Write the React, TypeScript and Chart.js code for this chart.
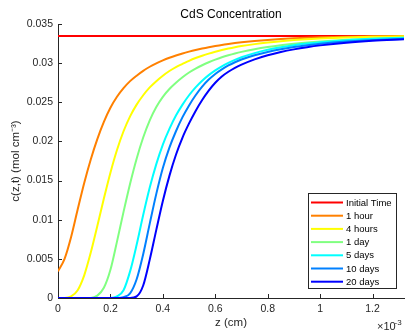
import React, { useEffect, useRef } from 'react';
import { Chart, registerables } from 'chart.js';

Chart.register(...registerables);

// ---------- data (z in units of 1e-3 cm, c in mol cm^-3) ----------
const seriesLabels = ['Initial Time', '1 hour', '4 hours', '1 day', '5 days', '10 days', '20 days'];

const zInitial = [0, 1.32];
const cInitial = [0.03347, 0.03347];

const zGrid = [0, 0.025, 0.05, 0.075, 0.1, 0.125, 0.15, 0.175, 0.2, 0.225, 0.25, 0.275, 0.3, 0.325, 0.35,
  0.375, 0.4, 0.425, 0.45, 0.475, 0.5, 0.525, 0.55, 0.575, 0.6, 0.625, 0.65, 0.675, 0.7,
  0.75, 0.8, 0.85, 0.9, 0.95, 1.0, 1.1, 1.2, 1.32];

const c1Hour = [0.0034, 0.0050, 0.0078, 0.0113, 0.0147, 0.0177, 0.0203, 0.0225, 0.0243, 0.0257, 0.0268, 0.0277,
  0.02840, 0.02902, 0.02954, 0.02998, 0.03036, 0.03069, 0.03098, 0.03124, 0.03147,
  0.03168, 0.03187, 0.03204, 0.03219, 0.03233, 0.03245, 0.03256, 0.03266,
  0.03283, 0.03297, 0.03308, 0.03317, 0.03324, 0.03330, 0.03338, 0.03343, 0.03346];

const c4Hours = [0, 0, 0.0002, 0.0010, 0.0029, 0.0058, 0.0092, 0.0127, 0.0160, 0.0189, 0.0213, 0.0232, 0.0247,
  0.0259, 0.0269, 0.0277, 0.0284, 0.0290, 0.0295, 0.0299, 0.0303,
  0.03065, 0.03095, 0.03122, 0.03146, 0.03167, 0.03186, 0.03203, 0.03218,
  0.03243, 0.03264, 0.03281, 0.03295, 0.03306, 0.03315, 0.03328, 0.03337, 0.03343];

const c1Day = [0, 0, 0, 0, 0, 0, 0.0003, 0.0013, 0.0036, 0.0072, 0.0110, 0.0146, 0.0178, 0.0205, 0.0227, 0.0244,
  0.0257, 0.0267, 0.0275, 0.0282, 0.0288,
  0.02930, 0.02973, 0.03011, 0.03045, 0.03075, 0.03101, 0.03124, 0.03144,
  0.03178, 0.03206, 0.03229, 0.03248, 0.03264, 0.03277, 0.03298, 0.03313, 0.03325];

const c5Days = [0, 0, 0, 0, 0, 0, 0, 0, 0, 0.0002, 0.0010, 0.0034, 0.0068, 0.0106, 0.0141, 0.0171, 0.0196, 0.0216,
  0.0233, 0.0247, 0.0259,
  0.02690, 0.02775, 0.02847, 0.02908, 0.02960, 0.03004, 0.03042, 0.03075,
  0.03128, 0.03170, 0.03203, 0.03230, 0.03251, 0.03268, 0.03294, 0.03311, 0.03324];

const c10Days = [0, 0, 0, 0, 0, 0, 0, 0, 0, 0, 0.0001, 0.0006, 0.0024, 0.0056, 0.0095, 0.0133, 0.0166, 0.0192,
  0.0213, 0.0231, 0.0246,
  0.02590, 0.02700, 0.02790, 0.02862, 0.02921, 0.02970, 0.03011, 0.03046,
  0.03100, 0.03143, 0.03178, 0.03206, 0.03229, 0.03248, 0.03276, 0.03296, 0.03311];

const c20Days = [0, 0, 0, 0, 0, 0, 0, 0, 0, 0, 0, 0, 0.0002, 0.0016, 0.0049, 0.0087, 0.0124, 0.0156, 0.0183,
  0.0205, 0.0223,
  0.0239, 0.0253, 0.0265, 0.0275, 0.0283, 0.0289, 0.0294, 0.0298,
  0.03048, 0.03100, 0.03142, 0.03176, 0.03204, 0.03227, 0.03262, 0.03286, 0.03305];

const seriesZ = [zInitial, zGrid, zGrid, zGrid, zGrid, zGrid, zGrid];
const seriesC = [cInitial, c1Hour, c4Hours, c1Day, c5Days, c10Days, c20Days];

const xTickStep = 0.2;
const yTickStep = 0.005;

// ---------- styles ----------
const seriesColors = ['#ff0000', '#ff8000', '#ffff00', '#80ff80', '#00ffff', '#0080ff', '#0000ff'];
const AXIS = '#262626';
const FONT = '"Liberation Sans", Arial, Helvetica, sans-serif';

const inwardTicks = {
  id: 'inwardTicks',
  beforeDatasetsDraw(chart: any) {
    const { ctx, chartArea, scales } = chart;
    const x = scales.x;
    const y = scales.y;
    ctx.save();
    ctx.strokeStyle = AXIS;
    ctx.lineWidth = 1;
    ctx.beginPath();
    x.ticks.forEach((t: any) => {
      const px = Math.round(x.getPixelForValue(t.value)) + 0.5;
      ctx.moveTo(px, chartArea.bottom);
      ctx.lineTo(px, chartArea.bottom - 4);
    });
    y.ticks.forEach((t: any) => {
      const py = Math.round(y.getPixelForValue(t.value)) + 0.5;
      ctx.moveTo(chartArea.left, py);
      ctx.lineTo(chartArea.left + 4, py);
    });
    ctx.stroke();
    ctx.restore();
  },
};

const boxLegend = {
  id: 'boxLegend',
  afterDraw(chart: any) {
    const { ctx } = chart;
    const left = 308.5, top = 193.5, right = 396.5, bottom = 288.5;
    ctx.save();
    ctx.fillStyle = '#ffffff';
    ctx.fillRect(left, top, right - left, bottom - top);
    ctx.strokeStyle = AXIS;
    ctx.lineWidth = 1;
    ctx.strokeRect(left, top, right - left, bottom - top);
    ctx.font = `9.5px ${FONT}`;
    ctx.textBaseline = 'middle';
    ctx.textAlign = 'left';
    chart.data.datasets.forEach((ds: any, i: number) => {
      const cy = 202.5 + i * 13.2;
      ctx.strokeStyle = ds.borderColor;
      ctx.lineWidth = 2;
      ctx.beginPath();
      ctx.moveTo(311, cy);
      ctx.lineTo(343, cy);
      ctx.stroke();
      ctx.fillStyle = '#000000';
      ctx.fillText(ds.label, 346, cy + 0.5);
    });
    ctx.restore();
  },
};

const exponentLabel = {
  id: 'exponentLabel',
  afterDraw(chart: any) {
    const { ctx } = chart;
    ctx.save();
    ctx.fillStyle = AXIS;
    ctx.textAlign = 'left';
    ctx.textBaseline = 'alphabetic';
    ctx.font = `11px ${FONT}`;
    ctx.fillText('\u00d710', 377, 330);
    ctx.font = `8px ${FONT}`;
    ctx.fillText('-3', 394.5, 325);
    ctx.restore();
  },
};

export default function App() {
  const ref = useRef<HTMLCanvasElement>(null);

  useEffect(() => {
    const canvas = ref.current;
    if (!canvas) return;
    const chart = new Chart(canvas, {
      type: 'line',
      data: {
        datasets: seriesLabels.map((label, i) => ({
          label,
          data: seriesZ[i].map((z, k) => ({ x: z, y: seriesC[i][k] })),
          borderColor: seriesColors[i],
          backgroundColor: seriesColors[i],
          borderWidth: 2,
          pointRadius: 0,
          fill: false,
          cubicInterpolationMode: 'monotone' as const,
          order: seriesLabels.length - i,
        })),
      },
      options: {
        responsive: false,
        animation: false,
        devicePixelRatio: 1,
        layout: { padding: { left: 0, right: 1, top: 0, bottom: 0 } },
        plugins: {
          legend: { display: false },
          tooltip: { enabled: false },
          title: {
            display: true,
            text: 'CdS Concentration',
            fullSize: false,
            color: '#000000',
            font: { family: FONT, size: 12, weight: 'normal' },
            padding: { top: 7.8, bottom: 1.8 },
          },
        },
        scales: {
          x: {
            type: 'linear',
            min: 0,
            max: 1.32,
            afterFit: (scale: any) => { scale.height = 37; },
            grid: { display: false, drawTicks: false },
            border: { display: true, color: AXIS, width: 1 },
            ticks: {
              stepSize: xTickStep,
              includeBounds: false,
              color: AXIS,
              padding: 5,
              maxRotation: 0,
              font: { family: FONT, size: 10.5 },
              callback: (v: any) => String(Number(Number(v).toFixed(4))),
            },
            title: {
              display: true,
              text: 'z (cm)',
              color: AXIS,
              font: { family: FONT, size: 11.5 },
              padding: { top: 0, bottom: 5 },
            },
          },
          y: {
            type: 'linear',
            min: 0,
            max: 0.035,
            afterFit: (scale: any) => { scale.width = 58; },
            grid: { display: false, drawTicks: false },
            border: { display: true, color: AXIS, width: 1 },
            ticks: {
              stepSize: yTickStep,
              color: AXIS,
              padding: 5,
              font: { family: FONT, size: 10.5 },
              callback: (v: any) => String(Number(Number(v).toFixed(4))),
            },
            title: {
              display: true,
              text: 'c(z,t) (mol cm\u207b\u00b3)',
              color: AXIS,
              font: { family: FONT, size: 11.5 },
              padding: { top: 9, bottom: 0 },
            },
          },
        },
      },
      plugins: [inwardTicks, boxLegend, exponentLabel],
    } as any);
    return () => chart.destroy();
  }, []);

  return (
    <div style={{ position: 'absolute', left: 0, top: 0, width: 405, height: 335, background: '#ffffff' }}>
      <canvas ref={ref} width={405} height={335} style={{ display: 'block' }} />
    </div>
  );
}
